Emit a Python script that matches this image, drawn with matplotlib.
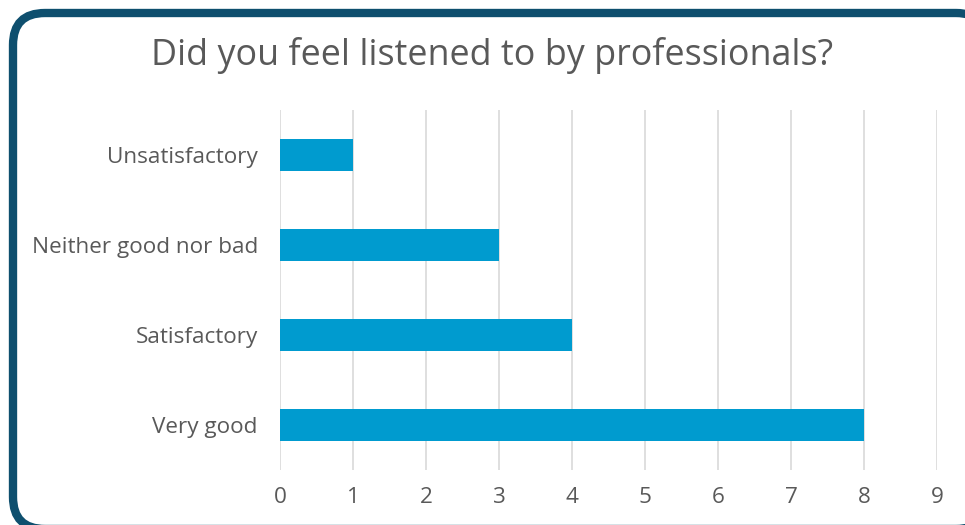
import matplotlib.pyplot as plt
from matplotlib.patches import FancyBboxPatch

# survey answers, top to bottom
answers = ['Unsatisfactory', 'Neither good nor bad', 'Satisfactory', 'Very good']
counts = [1, 3, 4, 8]
xticks = list(range(0, 10))

plt.rcParams['font.family'] = ['Open Sans', 'DejaVu Sans']

fig = plt.figure(figsize=(9.65, 5.25), dpi=100)
fig.patch.set_facecolor('white')

# rounded dark frame around the whole chart
frame = FancyBboxPatch((13, -4), 975, 516,
                       boxstyle='round,pad=0,rounding_size=32',
                       transform=None, facecolor='white',
                       edgecolor='#0E4F6E', linewidth=6, zorder=-5)
fig.patches.append(frame)

ax = fig.add_axes([0.2902, 0.1048, 0.6808, 0.6857])
ax.set_facecolor('none')
ypos = list(range(len(answers)))
ax.barh(ypos, counts, height=0.355, color='#009BCF', zorder=3)
ax.set_ylim(len(answers) - 0.5, -0.5)
ax.set_xlim(0, 9)
ax.set_xticks(xticks)
ax.set_yticks(ypos)
ax.set_yticklabels(answers)
ax.grid(axis='x', color='#D9D9D9', linewidth=1.2, zorder=0)
for s in ax.spines.values():
    s.set_visible(False)
ax.tick_params(axis='both', length=0, labelsize=16.2, labelcolor='#595959')
ax.tick_params(axis='y', pad=16)
ax.tick_params(axis='x', pad=12)

fig.text(0.5104, 0.895, 'Did you feel listened to by professionals?',
         ha='center', va='center', fontsize=25.8, color='#595959')

fig.savefig('out.png', dpi=100)
